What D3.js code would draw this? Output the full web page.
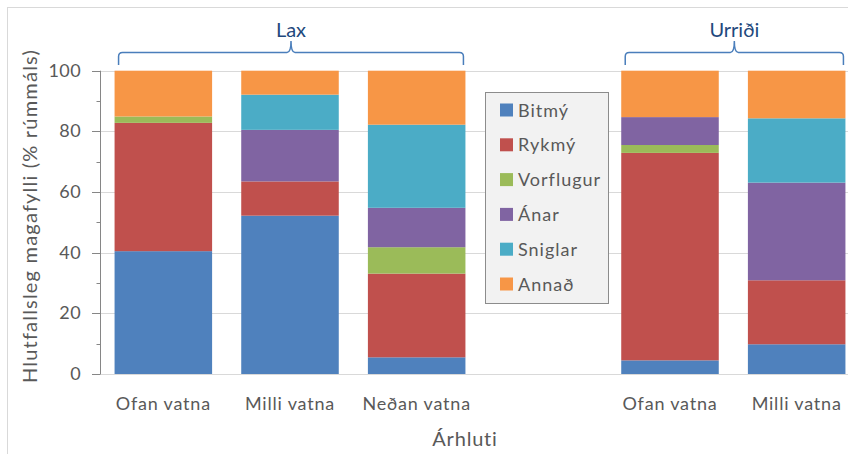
<!DOCTYPE html>
<html>
<head>
<meta charset="utf-8">
<script src="https://cdn.jsdelivr.net/npm/d3@7"></script>
<style>
  body { margin: 0; background: #fff; }
  text { font-family: Lato, "Open Sans", sans-serif; }
</style>
</head>
<body>
<svg id="chart" width="848" height="454"></svg>
<script>
// categories along the x axis (slot 3 is an empty spacer between fish groups)
var categories = ["Ofan vatna", "Milli vatna", "Neðan vatna", "", "Ofan vatna", "Milli vatna"]
var series = ["Bitmý", "Rykmý", "Vorflugur", "Ánar", "Sniglar", "Annað"]
var colors = ["#4f81bd", "#c0504d", "#9bbb59", "#8064a2", "#4bacc6", "#f79646"]

// % of stomach volume, one array per series, one value per category slot
var bitmy     = [40.5, 52.2, 5.5,  null, 4.5,  9.8]
var rykmy     = [42.3, 11.3, 27.6, null, 68.4, 21.1]
var vorflugur = [2.1,  0,    8.7,  null, 2.6,  0]
var anar      = [0,    17.0, 13.0, null, 9.2,  32.2]
var sniglar   = [0,    11.6, 27.4, null, 0,    21.2]
var annad     = [15.1, 7.9,  17.8, null, 15.3, 15.7]

var yTicks = [0, 20, 40, 60, 80, 100]
var yMinor = [10, 30, 50, 70, 90]

// fish groups shown with braces above the bars: first and last category slot
var groups = ["Lax", "Urriði"]
var groupFirst = [0, 4]
var groupLast = [2, 5]

var svg = d3.select("#chart")

// chart frame
svg.append("rect")
  .attr("x", 7.5).attr("y", 7.5)
  .attr("width", 900).attr("height", 500)
  .attr("fill", "none").attr("stroke", "#d9d9d9")

var x = d3.scaleBand()
  .domain(d3.range(categories.length))
  .range([100, 860])
  .paddingInner(0.23)
  .paddingOuter(0.115)

var y = d3.scaleLinear().domain([0, 100]).range([374, 70.7])

// gridlines
svg.append("g").selectAll("line")
  .data(yTicks.slice(1))
  .enter().append("line")
    .attr("x1", 100).attr("x2", 848)
    .attr("y1", d => Math.round(y(d)) + 0.5)
    .attr("y2", d => Math.round(y(d)) + 0.5)
    .attr("stroke", "#d9d9d9")

// x baseline
svg.append("line")
  .attr("x1", 100).attr("x2", 848)
  .attr("y1", Math.round(y(0)) + 0.5).attr("y2", Math.round(y(0)) + 0.5)
  .attr("stroke", "#d9d9d9")

// stacked bars
var table = categories.map(function(c, i){
  return {i: i, "Bitmý": bitmy[i], "Rykmý": rykmy[i], "Vorflugur": vorflugur[i],
          "Ánar": anar[i], "Sniglar": sniglar[i], "Annað": annad[i]}
}).filter(d => d["Bitmý"] != null)

var stack = d3.stack().keys(series)(table)

svg.append("g").selectAll("g")
  .data(stack)
  .enter().append("g")
    .attr("fill", (d, k) => colors[k])
  .selectAll("rect")
  .data(d => d)
  .enter().append("rect")
    .attr("x", d => x(d.data.i))
    .attr("width", x.bandwidth())
    .attr("y", d => y(d[1]))
    .attr("height", d => y(d[0]) - y(d[1]))

// y axis
var yAxis = svg.append("g")
yAxis.append("line")
  .attr("x1", 100.5).attr("x2", 100.5)
  .attr("y1", y(100)).attr("y2", y(0) + 0.5)
  .attr("stroke", "#868686")
yAxis.selectAll(".major")
  .data(yTicks)
  .enter().append("line")
    .attr("class", "major")
    .attr("x1", 92).attr("x2", 100)
    .attr("y1", d => Math.round(y(d)) + 0.5)
    .attr("y2", d => Math.round(y(d)) + 0.5)
    .attr("stroke", "#868686")
yAxis.selectAll(".minor")
  .data(yMinor)
  .enter().append("line")
    .attr("class", "minor")
    .attr("x1", 96.5).attr("x2", 100)
    .attr("y1", d => Math.round(y(d)) + 0.5)
    .attr("y2", d => Math.round(y(d)) + 0.5)
    .attr("stroke", "#868686")
yAxis.selectAll("text")
  .data(yTicks)
  .enter().append("text")
    .attr("x", 81)
    .attr("y", d => y(d) + 6)
    .attr("text-anchor", "end")
    .attr("font-size", 18)
    .attr("letter-spacing", 0.4)
    .attr("fill", "#595959")
    .text(d => d)

// x category labels
svg.append("g").selectAll("text")
  .data(categories)
  .enter().append("text")
    .attr("x", (d, i) => x(i) + x.bandwidth() / 2)
    .attr("y", 410)
    .attr("text-anchor", "middle")
    .attr("font-size", 18)
    .attr("letter-spacing", 0.8)
    .attr("fill", "#595959")
    .text(d => d)

// axis titles
svg.append("text")
  .attr("x", 465).attr("y", 446)
  .attr("text-anchor", "middle")
  .attr("font-size", 20)
  .attr("letter-spacing", 0.8)
  .attr("fill", "#595959")
  .text("Árhluti")

svg.append("text")
  .attr("transform", "translate(37,216) rotate(-90)")
  .attr("text-anchor", "middle")
  .attr("font-size", 20)
  .attr("letter-spacing", 1.2)
  .attr("fill", "#595959")
  .text("Hlutfallsleg magafylli (% rúmmáls)")

// group braces + labels
function bracePath(x0, x1, yTop, yEnd, yTip){
  var m = (x0 + x1) / 2, r = 4
  return "M" + x0 + "," + yEnd +
    " L" + x0 + "," + (yTop + r) + " Q" + x0 + "," + yTop + " " + (x0 + r) + "," + yTop +
    " L" + (m - r) + "," + yTop + " Q" + m + "," + yTop + " " + m + "," + yTip +
    " Q" + m + "," + yTop + " " + (m + r) + "," + yTop +
    " L" + (x1 - r) + "," + yTop + " Q" + x1 + "," + yTop + " " + x1 + "," + (yTop + r) +
    " L" + x1 + "," + yEnd
}

groups.forEach(function(g, k){
  var x0 = x(groupFirst[k]) + 4
  var x1 = Math.min(x(groupLast[k]) + x.bandwidth() - 2, 843.5)
  svg.append("path")
    .attr("d", bracePath(x0, x1, 52.5, 65, 41))
    .attr("fill", "none")
    .attr("stroke", "#4a7ebb")
    .attr("stroke-width", 1.5)
  svg.append("text")
    .attr("x", (x0 + x1) / 2).attr("y", 37)
    .attr("text-anchor", "middle")
    .attr("font-size", 20)
    .attr("fill", "#1f497d")
    .text(g)
})

// legend
var legend = svg.append("g").attr("transform", "translate(485,92)")
legend.append("rect")
  .attr("x", 0.5).attr("y", 0.5)
  .attr("width", 123).attr("height", 211)
  .attr("fill", "#f2f2f2")
  .attr("stroke", "#8c8c8c")
var item = legend.selectAll(".item")
  .data(series)
  .enter().append("g")
    .attr("class", "item")
    .attr("transform", (d, i) => "translate(0," + (18 + i * 34.8) + ")")
item.append("rect")
  .attr("x", 15).attr("y", -6.5)
  .attr("width", 13).attr("height", 13)
  .attr("fill", (d, i) => colors[i])
item.append("text")
  .attr("x", 33).attr("y", 6.5)
  .attr("font-size", 18)
  .attr("letter-spacing", 1)
  .attr("fill", "#595959")
  .text(d => d)
</script>
</body>
</html>
